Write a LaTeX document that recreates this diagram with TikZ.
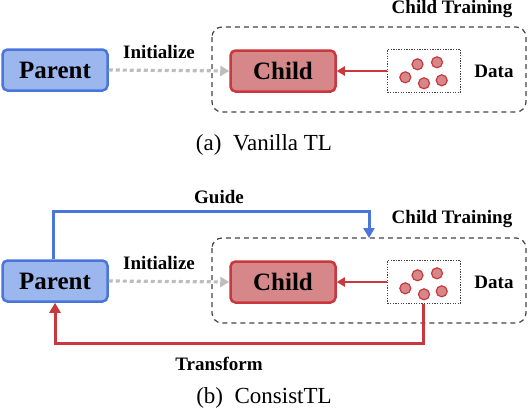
\documentclass[tikz,border=0pt]{standalone}
\usepackage{fontspec}
\setmainfont{Liberation Serif}
\usetikzlibrary{arrows.meta}
\definecolor{pfill}{HTML}{9CB6EE}
\definecolor{pline}{HTML}{4A76DB}
\definecolor{cfill}{HTML}{D6878A}
\definecolor{cline}{HTML}{C8383C}
\definecolor{ggray}{HTML}{BDBDBD}
\definecolor{dgray}{HTML}{444444}
\tikzset{
  parentbox/.style={draw=pline, fill=pfill, line width=2.5pt, rounded corners=5pt,
    minimum width=105pt, minimum height=41pt, inner sep=0pt, font=\fontsize{25}{25}\selectfont\bfseries},
  childbox/.style={draw=cline, fill=cfill, line width=2.5pt, rounded corners=5pt,
    minimum width=105pt, minimum height=41pt, inner sep=0pt, font=\fontsize{25}{25}\selectfont\bfseries},
  container/.style={draw=dgray, line width=1.2pt, dash pattern=on 5pt off 4pt, rounded corners=10pt},
  databox/.style={draw=dgray, line width=1.2pt, dash pattern=on 1.3pt off 1.3pt, minimum width=73pt, minimum height=43pt, inner sep=0pt},
  dot/.style={circle, draw=cline, fill=cfill, line width=1.2pt, minimum size=11pt, inner sep=0pt},
  lbl/.style={font=\fontsize{19}{19}\selectfont\bfseries, inner sep=0pt},
  captext/.style={font=\fontsize{23}{23}\selectfont, inner sep=0pt},
  initarrow/.style={draw=ggray, line width=3.2pt, dash pattern=on 4pt off 3pt, -{Triangle[length=9pt,width=10pt]}},
  dataarrow/.style={draw=cline, line width=2pt, -{Triangle[length=8pt,width=9pt]}},
  guidearrow/.style={draw=pline, line width=3pt, -{Triangle[length=10pt,width=11pt]}},
  transarrow/.style={draw=cline, line width=3pt, -{Triangle[length=10pt,width=11pt]}},
}
\begin{document}
\begin{tikzpicture}[x=1pt,y=-1pt]
\useasboundingbox (0,0) rectangle (528,418);
% ---------- (a) ----------
\draw[container] (212,27) rectangle (526,112);
\node[lbl] (ct1) at (452,9) {Child Training};
\node[parentbox] (p1) at (55,70) {Parent};
\node[childbox] (c1) at (283,71) {Child};
\node[databox] (d1) at (424,71) {};
\node[dot] (a1) at (417.5,64.3) {};
\node[dot] (a2) at (437,62.3) {};
\node[dot] (a3) at (405.3,77.3) {};
\node[dot] (a4) at (424,83.3) {};
\node[dot] (a5) at (441.7,80.3) {};
\node[lbl] (dl1) at (494,71) {Data};
\node[lbl] (in1) at (159,52) {Initialize};
\draw[initarrow] (p1.east) -- (c1.west);
\draw[dataarrow] (d1.west) -- (c1.east);
\node[captext] (capa) at (264,145) {(a)\ \ Vanilla TL};
% ---------- (b) ----------
\draw[container] (212,238) rectangle (526,323);
\node[lbl] (ct2) at (452,219) {Child Training};
\node[parentbox] (p2) at (55,281) {Parent};
\node[childbox] (c2) at (283,282) {Child};
\node[databox] (d2) at (424,282) {};
\node[dot] (b1) at (417.5,275.3) {};
\node[dot] (b2) at (437,273.3) {};
\node[dot] (b3) at (405.3,288.3) {};
\node[dot] (b4) at (424,294.3) {};
\node[dot] (b5) at (441.7,291.3) {};
\node[lbl] (dl2) at (494,282) {Data};
\node[lbl] (in2) at (159,263) {Initialize};
\draw[initarrow] (p2.east) -- (c2.west);
\draw[dataarrow] (d2.west) -- (c2.east);
\coordinate (g1) at (53,211);
\coordinate (g2) at (369,211);
\coordinate (g3) at (369,238);
\draw[guidearrow] (p2.north -| g1) -- (g1) -- (g2) -- (g3);
\node[lbl] (gl) at (219,197) {Guide};
\coordinate (t1) at (423,343);
\draw[transarrow] (d2.south -| t1) -- (t1) -| (p2.south);
\node[lbl] (tl) at (219,364) {Transform};
\node[captext] (capb) at (264,398) {(b)\ \ ConsistTL};
\end{tikzpicture}
\end{document}
